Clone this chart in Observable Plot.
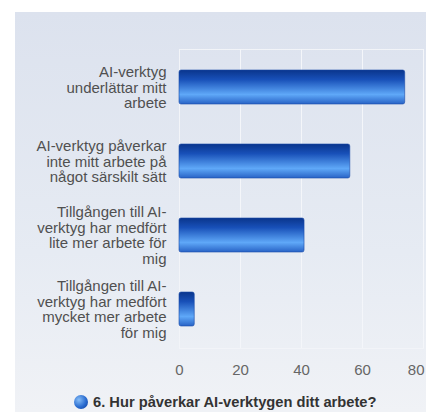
<!DOCTYPE html>
<html>
<head>
<meta charset="utf-8">
<script src="https://cdn.jsdelivr.net/npm/d3@7"></script>
<script src="https://cdn.jsdelivr.net/npm/@observablehq/plot@0.6"></script>
<style>
  html, body { margin: 0; padding: 0; background: #fff; width: 434px; height: 412px; overflow: hidden; }
  #panel {
    position: absolute; left: 15px; top: 12px; width: 411px; height: 400px;
    background: linear-gradient(to bottom, #dce2ee 0%, #e6ebf3 60%, #f0f2f6 100%);
    font-family: "Liberation Sans", Arial, sans-serif;
  }
  #panel svg { position: absolute; left: 0; top: 0; max-width: none !important; width: 419px !important; height: 370px !important; }
  #legend {
    position: absolute; left: 59px; top: 381px; height: 18px;
    display: flex; align-items: center; white-space: nowrap;
    font: bold 14.7px "Liberation Sans", Arial, sans-serif; color: #333;
  }
  #legend .dot {
    width: 14px; height: 14px; border-radius: 50%; margin-right: 5px; flex: none;
    background: radial-gradient(circle at 35% 35%, #86bdf7 0%, #2a6cd0 55%, #0d3a96 100%);
  }
</style>
</head>
<body>
<div id="panel"></div>
<script>
const categories = [
  "AI-verktyg\nunderlättar mitt\narbete",
  "AI-verktyg påverkar\ninte mitt arbete på\nnågot särskilt sätt",
  "Tillgången till AI-\nverktyg har medfört\nlite mer arbete för\nmig",
  "Tillgången till AI-\nverktyg har medfört\nmycket mer arbete\nför mig"
];
const values = [74, 56, 41, 5];
const xTicks = [0, 20, 40, 60, 80];
const legendLabel = "6. Hur påverkar AI-verktygen ditt arbete?";

const data = categories.map((c, i) => ({category: c, value: values[i]}));

const defs = () => {
  const g = d3.create("svg:defs");
  const lg = g.append("linearGradient").attr("id", "barGrad")
    .attr("x1", 0).attr("y1", 0).attr("x2", 0).attr("y2", 1);
  lg.append("stop").attr("offset", "0%").attr("stop-color", "#0a358c");
  lg.append("stop").attr("offset", "28%").attr("stop-color", "#1850b8");
  lg.append("stop").attr("offset", "72%").attr("stop-color", "#5fa8f8");
  lg.append("stop").attr("offset", "100%").attr("stop-color", "#2863c6");
  return g.node();
};

const tickStyle = {tickSize: 0, tickPadding: 16, fontSize: 15, fill: "#666", label: null};

const chart = Plot.plot({
  width: 419,
  height: 370,
  marginLeft: 164,
  marginRight: 11,
  marginTop: 37,
  marginBottom: 34,
  style: {background: "transparent", fontFamily: "'Liberation Sans', Arial, sans-serif", overflow: "visible", maxWidth: "none"},
  x: {domain: [0, 80], ticks: xTicks},
  y: {domain: categories, paddingInner: 0.54, paddingOuter: 0.27, align: 0.5},
  marks: [
    defs,
    Plot.frame({stroke: "#f2f4f8", strokeWidth: 1}),
    Plot.gridX(xTicks.slice(1), {stroke: "#f4f6fa", strokeOpacity: 1, strokeWidth: 1}),
    Plot.barX(data, {x: "value", y: "category", fill: "url(#barGrad)", rx: 2, stroke: "#1a4aa8", strokeWidth: 0.6}),
    Plot.axisX(xTicks.slice(0, -1), tickStyle),
    Plot.axisX(xTicks.slice(-1), {...tickStyle, textAnchor: "end", dx: 1}),
    Plot.axisY({tickSize: 0, tickPadding: 13, fontSize: 15, fill: "#505050", lineHeight: 1.05, label: null})
  ]
});

const panel = document.getElementById("panel");
panel.appendChild(chart);
const legend = document.createElement("div");
legend.id = "legend";
legend.innerHTML = '<span class="dot"></span><span></span>';
legend.lastChild.textContent = legendLabel;
panel.appendChild(legend);
</script>
</body>
</html>
